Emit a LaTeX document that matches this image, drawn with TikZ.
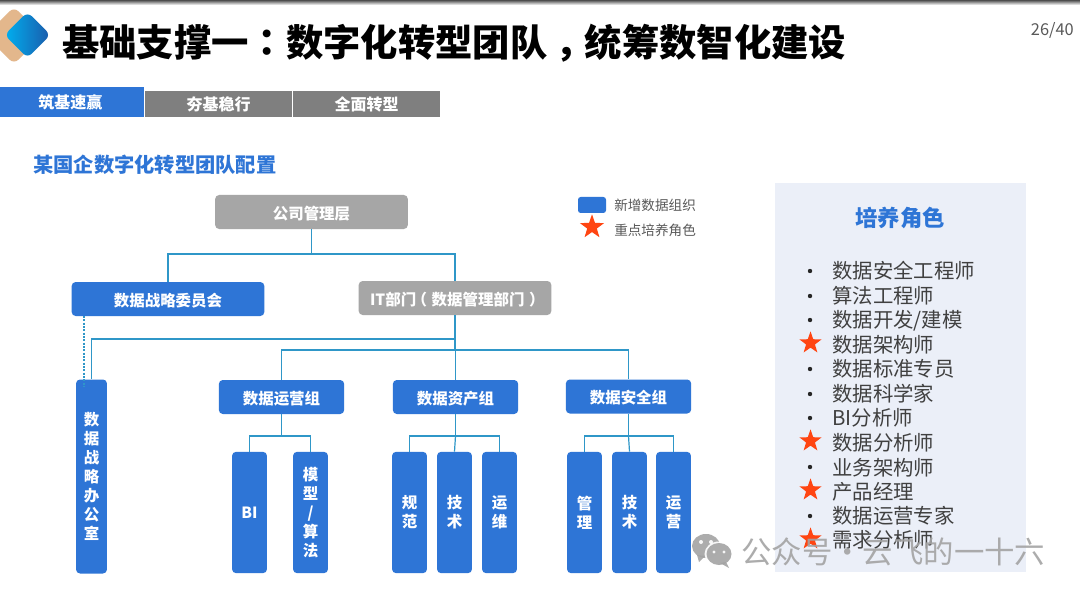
\documentclass[tikz,border=0pt]{standalone}
\usepackage{fontspec}
\setmainfont{Noto Sans CJK SC}
\newfontfamily\tcfont{Noto Sans CJK TC}
\usetikzlibrary{shapes.geometric}
\newcommand{\pxfont}[2]{\fontsize{#1}{#2}\selectfont}
\newcommand{\midleft}{\kern-.3em （\kern.3em}
\newcommand{\midright}{\kern.3em ）\kern-.3em}
\definecolor{bluebox}{HTML}{2E75D6}
\definecolor{graybox}{HTML}{A6A6A6}
\definecolor{tabgray}{HTML}{7F7F7F}
\definecolor{linkc}{HTML}{2F97C8}
\definecolor{panelc}{HTML}{EBEFF8}
\definecolor{starc}{HTML}{FF4512}
\definecolor{itemc}{HTML}{404040}
\definecolor{markc}{HTML}{A3A3A3}
\tikzset{
 x=0.75pt,y=-0.75pt,
 boxbase/.style={rounded corners=3pt,inner sep=0pt,align=center,text=white,font=\pxfont{11.6}{14.3}\bfseries},
 bluenode/.style={boxbase,fill=bluebox},
 graynode/.style={boxbase,fill=graybox},
 wide/.style={minimum width=144.5pt,minimum height=25.5pt,text height=11pt,text depth=0pt},
 group/.style={minimum width=94pt,minimum height=25.5pt,text height=11pt,text depth=0pt},
 tall/.style={minimum width=26.2pt,minimum height=91pt},
 tab/.style={inner sep=0pt,text=white,font=\pxfont{12}{14}\bfseries,minimum height=19.5pt,minimum width=110pt},
 tabgrey/.style={tab,fill=tabgray,anchor=north west,text height=10pt,text depth=0pt},
 link/.style={draw=linkc,line width=0.9pt},
 item/.style={anchor=west,inner sep=0pt,text=itemc,font=\pxfont{15.3}{18}},
 bul/.style={circle,fill=black!85,inner sep=0pt,minimum size=3.3pt},
 keystar/.style={star,star points=5,star point ratio=2.5,fill=starc,inner sep=0pt,minimum size=17.5pt},
 legendtxt/.style={anchor=west,inner sep=0pt,text=black!65,font=\pxfont{10.2}{12}},
}
\begin{document}
\begin{tikzpicture}
\useasboundingbox (0,0) rectangle (1080,595);
\fill[white] (0,0) rectangle (1080,595);
\fill[top color=black!70,bottom color=white] (0,0) rectangle (1080,5);
% logo
\begin{scope}
\clip (0,0) rectangle (1080,595);
\fill[rounded corners=4.5pt,fill={rgb,255:red,227;green,183;blue,140}] (14,7) -- (43,35.5) -- (14,64) -- (-15,35.5) -- cycle;
\shade[rounded corners=4.5pt,left color={rgb,255:red,0;green,176;blue,240},right color={rgb,255:red,27;green,90;blue,170}] (27.5,12) -- (50.5,35) -- (27.5,58) -- (4.5,35) -- cycle;
\end{scope}
\node[anchor=west,inner sep=0pt,font=\pxfont{28}{32}\bfseries] (title) at (62,43) {基础支撑一{\tcfont：}数字化转型团队\kern.2em ，\kern-.2em 统筹数智化建设};
\node[anchor=east,inner sep=0pt,text=black!65,font=\pxfont{12.3}{14}] (page) at (1074,30.5) {26/40};
% tabs
\node[tab,fill=bluebox,minimum height=22.5pt,anchor=north east] (t1) at (144,87) {筑基速赢};
\node[tabgrey] (t2) at (145,91) {夯基稳行};
\node[tabgrey] (t3) at (293,91) {全面转型};
\node[anchor=west,inner sep=0pt,text=bluebox,font=\pxfont{15.2}{18}\bfseries] (sub) at (33,165) {某国企数字化转型团队配置};
% org boxes
\node[graynode,wide] (mgmt) at (311.5,212) {公司管理层};
\node[bluenode,wide] (comm) at (168,299) {数据战略委员会};
\node[graynode,wide] (it) at (455,298) {IT部门\midleft 数据管理部门\midright};
\node[bluenode,minimum width=23.2pt,minimum height=145.5pt] (office) at (91.5,476.5) {数\\据\\战\\略\\办\\公\\室};
\node[bluenode,group] (g1) at (281.5,397) {数据运营组};
\node[bluenode,group] (g2) at (455.5,397) {数据资产组};
\node[bluenode,group] (g3) at (628.5,396.5) {数据安全组};
\node[bluenode,tall] (bi) at (249.5,512.5) {BI};
\node[bluenode,tall] (model) at (310.5,512.5) {模\\型\\/\\算\\法};
\node[bluenode,tall] (norm) at (409.5,512.5) {规\\范};
\node[bluenode,tall] (tech) at (454.5,512.5) {技\\术};
\node[bluenode,tall] (ops) at (499.5,512.5) {运\\维};
\node[bluenode,tall] (man) at (584.5,512.5) {管\\理};
\node[bluenode,tall] (techb) at (629.5,512.5) {技\\术};
\node[bluenode,tall] (run) at (673.5,512.5) {运\\营};
% junctions
\coordinate (j1) at (311.5,254);
\coordinate (j2) at (455,350);
\coordinate (j3) at (455,339);
\coordinate (a1) at (281.5,436);
\coordinate (a2) at (455.5,436);
\coordinate (a3) at (628.5,436);
\coordinate (d1) at (84,316);
\coordinate (d2) at (84,387);
% connectors
\draw[link] (mgmt.south) -- (j1);
\draw[link] (j1) -| (comm.north);
\draw[link] (j1) -| (it.north);
\draw[link] (it.south) -- (j2);
\draw[link] (j3) -| (office.north);
\draw[link] (j2) -| (g1.north);
\draw[link] (j2) -| (g2.north);
\draw[link] (j2) -| (g3.north);
\draw[link] (g1.south) -- (a1);
\draw[link] (g2.south) -- (a2);
\draw[link] (g3.south) -- (a3);
\draw[link] (a1) -| (bi.north);
\draw[link] (a1) -| (model.north);
\draw[link] (a2) -| (norm.north);
\draw[link] (a2) -- (tech.north);
\draw[link] (a2) -| (ops.north);
\draw[link] (a3) -| (man.north);
\draw[link] (a3) -- (techb.north);
\draw[link] (a3) -| (run.north);
\draw[link,dash pattern=on 1.4pt off 1.1pt] (d1) -- (d2);
% legend
\node[rounded corners=2pt,fill=bluebox,minimum width=21pt,minimum height=12pt,inner sep=0pt] (legbox) at (592,205) {};
\node[keystar,minimum size=19pt] (legstar) at (592,227) {};
\node[legendtxt] (leg1) at (614,205.8) {新增数据组织};
\node[legendtxt] (leg2) at (614,230.8) {重点培养角色};
% panel
\fill[panelc] (775,183) rectangle (1026,572);
\node[inner sep=0pt,text=bluebox,font=\pxfont{16.8}{20}\bfseries] (ptitle) at (900,218) {培养角色};
\node[item] (i1) at (832,271) {数据安全工程师};
\node[item] (i2) at (832,296) {算法工程师};
\node[item] (i3) at (832,320.5) {数据开发/建模};
\node[item] (i4) at (832,344.5) {数据架构师};
\node[item] (i5) at (832,369) {数据标准专员};
\node[item] (i6) at (832,394) {数据科学家};
\node[item] (i7) at (832,418) {BI分析师};
\node[item] (i8) at (832,442.5) {数据分析师};
\node[item] (i9) at (832,467.5) {业务架构师};
\node[item] (i10) at (832,491.5) {产品经理};
\node[item] (i11) at (832,516) {数据运营专家};
\node[item] (i12) at (832,540) {需求分析师};
\foreach \n/\y in {b1/271,b2/296,b3/320,b5/369,b6/394,b7/418,b9/467,b11/516}
  \node[bul] (\n) at (810,\y) {};
\foreach \n/\y in {s4/343,s8/441,s10/490,s12/539}
  \node[keystar] (\n) at (810.5,\y) {};
% watermark
\begin{scope}[opacity=0.9]
\fill[markc] (706,546) ellipse (14 and 12);
\fill[markc] (697,555) -- (699,562) -- (705,556) -- cycle;
\fill[white] (719,554) ellipse (14.5 and 12.5);
\fill[markc] (719,554) ellipse (12.5 and 11);
\fill[markc] (726,562) -- (729,568) -- (720,563) -- cycle;
\fill[white] (701,542) circle (2) (711,542) circle (2) (714,552) circle (1.6) (724,552) circle (1.6);
\node[anchor=west,inner sep=0pt,text=markc,font=\pxfont{22.8}{26}] (mark) at (741,552) {公众号{\tcfont・}云飞的一十六};
\end{scope}
\end{tikzpicture}
\end{document}
